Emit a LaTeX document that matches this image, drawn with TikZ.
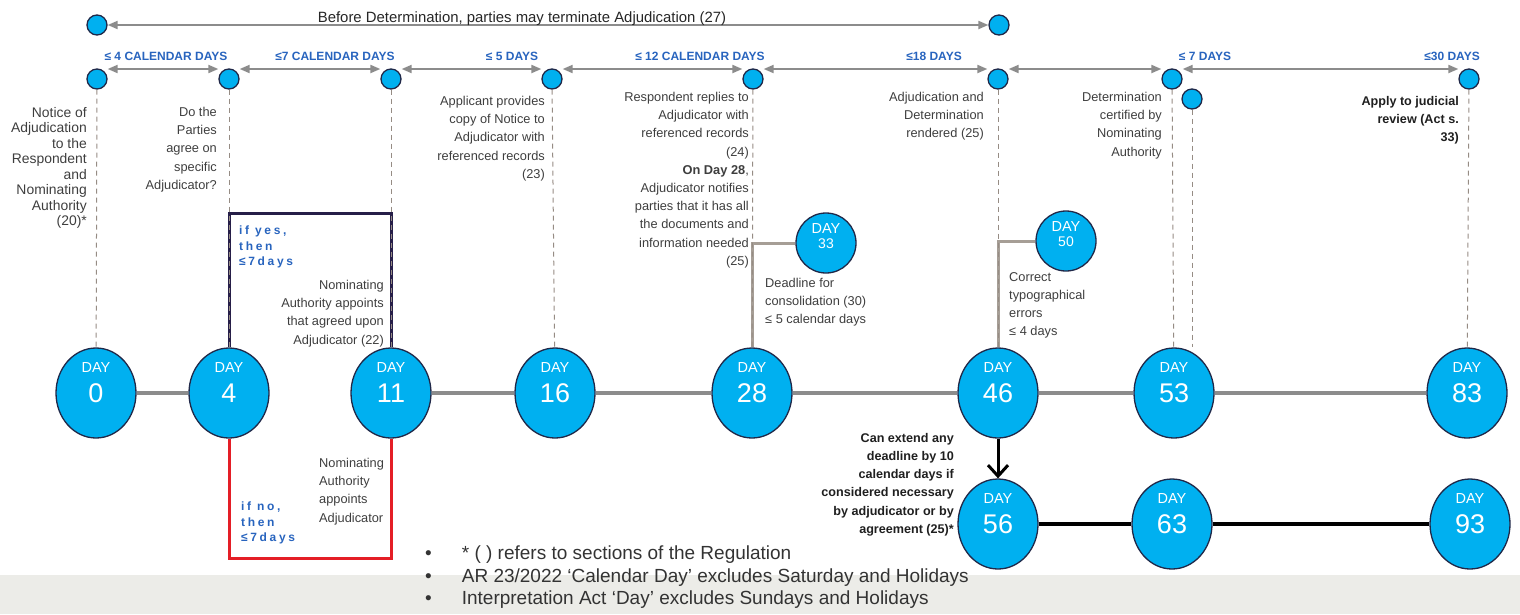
\documentclass[tikz,border=0pt]{standalone}
\usepackage{fontspec}
\setmainfont{Liberation Sans}
\newfontfamily\spacedfont[LetterSpace=22]{Liberation Sans}
\usetikzlibrary{shapes.geometric,arrows.meta}

\definecolor{daycyan}{RGB}{0,176,240}
\definecolor{rimnavy}{RGB}{32,40,72}
\definecolor{spangray}{RGB}{140,140,140}
\definecolor{guidegray}{RGB}{150,140,132}
\definecolor{branchgray}{RGB}{166,158,150}
\definecolor{notegray}{RGB}{62,62,62}
\definecolor{spanblue}{RGB}{40,100,190}
\definecolor{boxnavy}{RGB}{38,30,72}
\definecolor{boxred}{RGB}{228,30,38}
\definecolor{bandgray}{RGB}{236,236,232}

\newcommand{\daybig}[1]{DAY\\{\fontsize{27}{30}\selectfont #1\rule[-20.5pt]{0pt}{0pt}}}
\newcommand{\daysmall}[1]{DAY\\{\fontsize{14}{15}\selectfont #1\rule[-13.5pt]{0pt}{0pt}}}

\tikzset{
	dayball/.style={ellipse, draw=rimnavy, line width = 1.3pt, fill=daycyan, minimum width=80pt, minimum height=90pt, inner sep=0pt, text=white, align=center, font=\fontsize{14.5}{30}\selectfont},
	daysmallball/.style={circle, draw=rimnavy, line width = 1.3pt, fill=daycyan, minimum size=60pt, inner sep=0pt, text=white, align=center, font=\fontsize{14.5}{15}\selectfont},
	dot/.style={circle, draw=rimnavy, line width = 1.3pt, fill=daycyan, minimum size=20pt, inner sep=0pt},
	spanarrow/.style={{Triangle[length=10pt,width=8pt]}-{Triangle[length=10pt,width=8pt]}, draw=spangray, line width = 2pt},
	spanlabel/.style={text=spanblue, font=\fontsize{12}{12}\selectfont\bfseries, inner sep=0pt},
	guide/.style={draw=guidegray, line width = 1pt, dash pattern=on 5pt off 4pt},
	mainline/.style={draw=spangray, line width = 4pt},
	lowline/.style={draw=black, line width = 3.5pt},
	branch/.style={draw=branchgray, line width = 3pt},
	yesbox/.style={draw=boxnavy, line width = 3pt},
	nobox/.style={draw=boxred, line width = 3pt},
	extendarrow/.style={-{Straight Barb[length=11pt,width=20pt]}, draw=black, line width = 3pt},
	note/.style={text=notegray, font=\fontsize{12.8}{18.2}\selectfont, align=right, inner sep=0pt},
	boldnote/.style={text=black!88, font=\fontsize{12.6}{18.2}\selectfont\bfseries, align=right, inner sep=0pt},
	choice/.style={text=spanblue, font=\spacedfont\bfseries\fontsize{12}{15.5}\selectfont, align=left, anchor=north west, inner sep=0pt},
	toplabel/.style={text=black!85, font=\fontsize{14.9}{16}\selectfont, inner sep=0pt, anchor=base},
	footnotes/.style={text=black!80, font=\fontsize{19}{22.5}\selectfont, inner sep=0pt, anchor=north west}
}

\begin{document}
\begin{tikzpicture}[x=1pt, y=-1pt]
		
		\useasboundingbox (0,0) rectangle (1520,614);
		\fill[bandgray] (0,575) rectangle (1520,614);
		
		\node[dot] (s0) at (97,25) {};
		\node[dot] (s46) at (999,25) {};
		\draw[spanarrow] (s0) -- (s46);
		\node[toplabel] (terminate) at (522,22) {Before Determination, parties may terminate Adjudication (27)};
		
		\node[dot] (t0) at (97,79) {};
		\node[dot] (t4) at (229,79) {};
		\node[dot] (t11) at (391,79) {};
		\node[dot] (t16) at (552,79) {};
		\node[dot] (t28) at (753,79) {};
		\node[dot] (t46) at (998,79) {};
		\node[dot] (t53) at (1172,79) {};
		\node[dot] (t53b) at (1192,99) {};
		\node[dot] (t83) at (1469,79) {};
		
		\draw[spanarrow] ([yshift=10pt]t0.east) -- ([yshift=10pt]t4.west);
		\draw[spanarrow] ([yshift=10pt]t4.east) -- ([yshift=10pt]t11.west);
		\draw[spanarrow] ([yshift=10pt]t11.east) -- ([yshift=10pt]t16.west);
		\draw[spanarrow] ([yshift=10pt]t16.east) -- ([yshift=10pt]t28.west);
		\draw[spanarrow] ([yshift=10pt]t28.east) -- ([yshift=10pt]t46.west);
		\draw[spanarrow] ([yshift=10pt]t46.east) -- ([yshift=10pt]t53.west);
		\draw[spanarrow] ([yshift=10pt]t53.east) -- ([yshift=10pt]t83.west);
		
		\node[spanlabel] (lbl4) at (166,56) {≤ 4 CALENDAR DAYS};
		\node[spanlabel] (lbl7) at (335,56) {≤7 CALENDAR DAYS};
		\node[spanlabel] (lbl5) at (512,56) {≤ 5 DAYS};
		\node[spanlabel] (lbl12) at (700,56) {≤ 12 CALENDAR DAYS};
		\node[spanlabel] (lbl18) at (934,56) {≤18 DAYS};
		\node[spanlabel] (lbl7b) at (1205,56) {≤ 7 DAYS};
		\node[spanlabel] (lbl30) at (1452,56) {≤30 DAYS};
		
		\node[dayball] (d0) at (96,393) {\daybig{0}};
		\node[dayball] (d4) at (229,393) {\daybig{4}};
		\node[dayball] (d11) at (391,393) {\daybig{11}};
		\node[dayball] (d16) at (555,393) {\daybig{16}};
		\node[dayball] (d28) at (752,393) {\daybig{28}};
		\node[dayball] (d46) at (998,393) {\daybig{46}};
		\node[dayball] (d53) at (1174,393) {\daybig{53}};
		\node[dayball] (d83) at (1467,393) {\daybig{83}};
		\node[dayball] (d56) at (998,524) {\daybig{56}};
		\node[dayball] (d63) at (1172,524) {\daybig{63}};
		\node[dayball] (d93) at (1470,524) {\daybig{93}};
		\node[daysmallball] (d33) at (826,243) {\daysmall{33}};
		\node[daysmallball] (d50) at (1066,241) {\daysmall{50}};
		
		\draw[mainline] (d0) -- (d4);
		\draw[mainline] (d11) -- (d16);
		\draw[mainline] (d16) -- (d28);
		\draw[mainline] (d28) -- (d46);
		\draw[mainline] (d46) -- (d53);
		\draw[mainline] (d53) -- (d83);
		\draw[lowline] (d56) -- (d63);
		\draw[lowline] (d63) -- (d93);
		\draw[extendarrow] (d46) -- (d56);
		
		\draw[branch] (d28.north) |- (d33);
		\draw[branch] (d46.north) |- (d50);
		
		\coordinate (yestop) at (0,213);
		\coordinate (nobottom) at (0,558);
		\draw[yesbox] (d4.north) |- (yestop -| d11.north) -- (d11.north);
		\draw[nobox] (d4.south) |- (nobottom -| d11.south) -- (d11.south);
		
		\draw[guide] (t0) -- (d0);
		\draw[guide] (t4) -- (d4);
		\draw[guide] (t11) -- (d11);
		\draw[guide] (t16) -- (d16);
		\draw[guide] (t28) -- (d28);
		\draw[guide] (t46) -- (d46);
		\draw[guide] (t53) -- (d53);
		\draw[guide] (t53b) -- (t53b |- d53.north);
		\draw[guide] (t83) -- (d83);
		
		\node[note, anchor=north east, font=\fontsize{13.9}{15.5}\selectfont] (notice) at (87,107) {Notice of\\Adjudication\\to the\\Respondent\\and\\Nominating\\Authority\\(20)*};
		\node[note, anchor=north east] (agree) at (217,107) {Do the\\Parties\\agree on\\specific\\Adjudicator?};
		\node[note, anchor=north east] (applicant) at (545,96) {Applicant provides\\copy of Notice to\\Adjudicator with\\referenced records\\(23)};
		\node[note, anchor=north east] (replies) at (749,92) {Respondent replies to\\Adjudicator with\\referenced records\\(24)\\\textbf{On Day 28},\\Adjudicator notifies\\parties that it has all\\the documents and\\information needed\\(25)};
		\node[note, anchor=north east] (rendered) at (984,92) {Adjudication and\\Determination\\rendered (25)};
		\node[note, anchor=north east] (certified) at (1162,92) {Determination\\certified by\\Nominating\\Authority};
		\node[boldnote, anchor=north east] (review) at (1459,96) {Apply to judicial\\review (Act s.\\33)};
		\node[note, anchor=north east] (agreed) at (384,280) {Nominating\\Authority appoints\\that agreed upon\\Adjudicator (22)};
		\node[note, align=left, anchor=north west] (appoints) at (319,458) {Nominating\\Authority\\appoints\\Adjudicator};
		\node[note, align=left, anchor=north west] (consolidation) at (765,278) {Deadline for\\consolidation (30)\\≤ 5 calendar days};
		\node[note, align=left, anchor=north west] (typo) at (1009,272) {Correct\\typographical\\errors\\≤ 4 days};
		\node[boldnote, anchor=north east] (extend) at (954,433) {Can extend any\\deadline by 10\\calendar days if\\considered necessary\\by adjudicator or by\\agreement (25)*};
		
		\node[choice] (yes) at (239,226) {if yes,\\then\\≤7days};
		\node[choice] (no) at (241,502) {if no,\\then\\≤7days};
		
		\node[footnotes] (remarks) at (425,544) {\begin{tabular}{@{}l@{\hspace{30pt}}l@{}}
			• & * ( ) refers to sections of the Regulation\\
			• & AR 23/2022 ‘Calendar Day’ excludes Saturday and Holidays\\
			• & Interpretation Act ‘Day’ excludes Sundays and Holidays
		\end{tabular}};
		
	\end{tikzpicture}
\end{document}
